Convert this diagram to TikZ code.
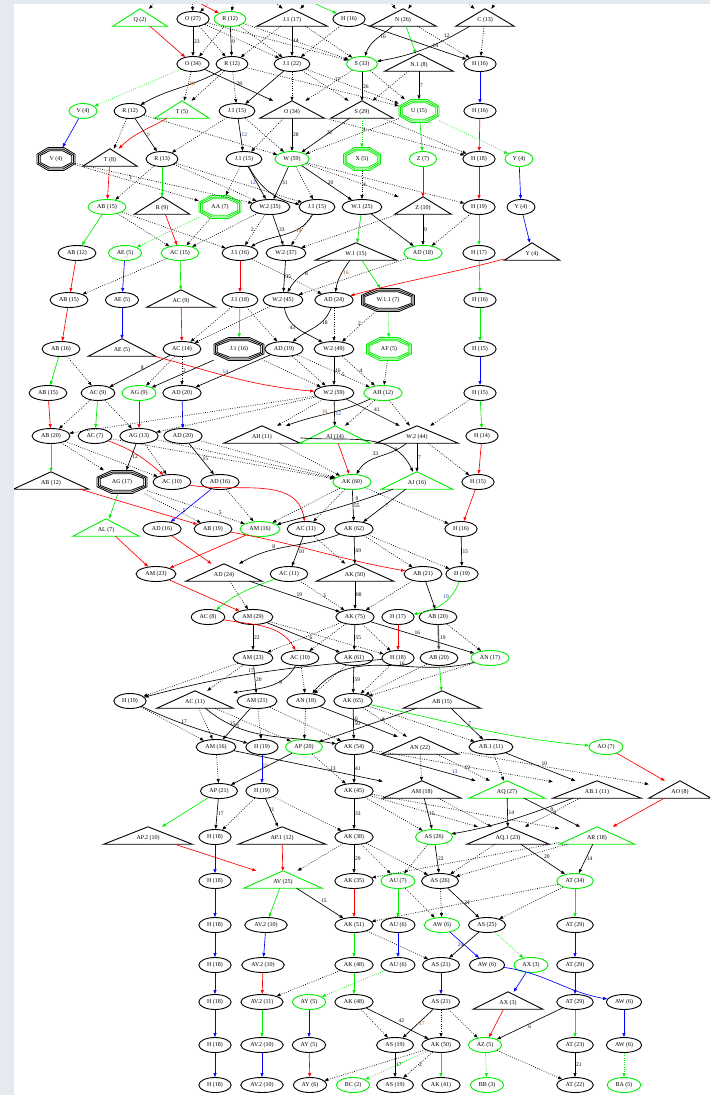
\documentclass[tikz,border=0pt]{standalone}
\usepackage{fontspec}
\setmainfont{Liberation Serif}
\usetikzlibrary{shapes.geometric,arrows.meta}
\definecolor{gG}{RGB}{0,238,0}
\definecolor{rR}{RGB}{255,0,0}
\definecolor{bB}{RGB}{0,0,255}
\definecolor{bgc}{RGB}{229,233,240}
\definecolor{brn}{RGB}{150,80,20}
\definecolor{lblue}{RGB}{30,60,170}
\newcommand\nf{\fontsize{6}{7}\selectfont}
\newcommand\lf{\fontsize{5.5}{6}\selectfont}
\tikzset{
 ell/.style={ellipse, draw=black, line width=0.9pt, inner xsep=3.5pt, inner ysep=1pt, minimum height=15pt, font=\nf},
 gell/.style={ell, draw=gG},
 tri/.style={rectangle, inner sep=0pt, text height=12pt, text depth=5pt, minimum width=#1pt, anchor=base, font=\nf},
 octn/.style={rectangle, inner sep=0pt, font=\nf},
 sl/.style={-{Triangle[length=4pt,width=3pt]}, line width=0.65pt},
 dt/.style={sl, dash pattern=on 0.8pt off 1.5pt},
 gs/.style={sl, draw=gG},
 rs/.style={sl, draw=rR},
 bs/.style={sl, draw=bB},
 gdt/.style={dt, draw=gG},
 lab/.style={font=\lf, inner sep=0.8pt, anchor=west},
 lbr/.style={lab, text=brn},
 lbl/.style={lab, text=lblue},
}
\newcommand\octnode[6]{%
  \node[octn, minimum width=#4pt, minimum height=23pt] (#1) at (#2,#3) {#5};
  \foreach \dd in {0,1.6,3.2}{%
    \pgfmathsetmacro\octA{#4/2-\dd}%
    \pgfmathsetmacro\octB{11.5-\dd}%
    \draw[#6, line width=0.8pt] ({#2+\octA},{#3-0.414*\octB}) -- ({#2+0.414*\octA},{#3-\octB}) -- ({#2-0.414*\octA},{#3-\octB}) -- ({#2-\octA},{#3-0.414*\octB}) -- ({#2-\octA},{#3+0.414*\octB}) -- ({#2-0.414*\octA},{#3+\octB}) -- ({#2+0.414*\octA},{#3+\octB}) -- ({#2+\octA},{#3+0.414*\octB}) -- cycle;}%
}
\begin{document}
\begin{tikzpicture}[x=1pt,y=-1pt]
\fill[bgc] (0,0) rectangle (710,1095);
\fill[white] (14,4) rectangle (710,1095);
\useasboundingbox (0,0) rectangle (710,1095);
\begin{scope}
\clip (14,4) rectangle (710,1095);
% ---------------- nodes ----------------
% r1
\node[tri=54] (Q1) at (140,21) {Q (2)};
\node[ell] (O1) at (193,19) {O (27)};
\node[gell] (R1) at (230,19) {R (12)};
\node[tri=70] (J1) at (292,21) {J.1 (17)};
\node[ell] (H1) at (349,19) {H (16)};
\node[tri=66] (N1) at (403,21) {N (26)};
\node[tri=58] (C1) at (485,21) {C (13)};
% r2
\node[ell] (O2) at (193,64) {O (34)};
\node[ell] (R2) at (232,64) {R (12)};
\node[ell] (J2) at (292,64) {J.1 (22)};
\node[gell] (S2) at (362,64) {S (33)};
\node[tri=68] (NN2) at (419,66) {N.1 (8)};
\node[ell] (H2) at (480,64) {H (16)};
% r3
\node[gell] (V3) at (83,111) {V (4)};
\node[ell] (R3) at (130,111) {R (12)};
\node[tri=54] (T3) at (182,113) {T (5)};
\node[ell] (J3) at (237,111) {J.1 (15)};
\node[tri=64] (O3) at (292,113) {O (34)};
\node[tri=62] (S3) at (362,113) {S (29)};
\octnode{U3}{419}{111}{40}{U (15)}{gG}
\node[ell] (H3) at (480,111) {H (16)};
% r4
\octnode{V4}{56}{159}{38}{V (4)}{black}
\node[tri=54] (T4) at (110,161) {T (8)};
\node[ell] (R4) at (162,159) {R (13)};
\node[ell] (J4) at (244,159) {J.1 (15)};
\node[gell] (W4) at (292,159) {W (59)};
\octnode{X4}{362}{159}{37}{X (5)}{gG}
\node[gell] (Z4) at (423,159) {Z (7)};
\node[ell] (H4) at (479,159) {H (18)};
\node[gell] (Y4) at (519,159) {Y (4)};
% r5
\node[gell] (AB5) at (107,207) {AB (15)};
\node[tri=55] (R5) at (162,209) {R (9)};
\octnode{AA5}{220}{207}{42}{AA (7)}{gG}
\node[ell] (W25) at (270,207) {W.2 (35)};
\node[ell] (J5) at (317,207) {J.1 (15)};
\node[ell] (W15) at (362,207) {W.1 (25)};
\node[tri=56] (Z5) at (423,209) {Z (10)};
\node[ell] (H5) at (479,207) {H (19)};
\node[ell] (Y5) at (521,207) {Y (4)};
% r6
\node[ell] (AB6) at (77,253) {AB (12)};
\node[gell] (AE6) at (125,253) {AE (5)};
\node[gell] (AC6) at (180,253) {AC (15)};
\node[ell] (J6) at (240,253) {J.1 (16)};
\node[ell] (W26) at (286,253) {W.2 (37)};
\node[tri=81] (W16) at (356,255) {W.1 (15)};
\node[gell] (AD6) at (423,253) {AD (18)};
\node[ell] (H6) at (479,253) {H (17)};
\node[tri=55] (Y6) at (532,255) {Y (4)};
% r7
\node[ell] (AB7) at (69,300) {AB (15)};
\node[ell] (AE7) at (122,300) {AE (5)};
\node[tri=68] (AC7) at (181,302) {AC (9)};
\node[ell] (J7) at (240,300) {J.1 (18)};
\node[ell] (W27) at (283,300) {W.2 (45)};
\node[ell] (AD7) at (334,300) {AD (24)};
\octnode{W117}{388}{300}{53}{W.1.1 (7)}{black}
\node[ell] (H7) at (480,300) {H (16)};
% r8
\node[ell] (AB8) at (61,349) {AB (16)};
\node[tri=67] (AE8) at (122,351) {AE (5)};
\node[ell] (AC8) at (182,349) {AC (14)};
\octnode{J8}{239}{349}{50}{J.1 (16)}{black}
\node[ell] (AD8) at (284,349) {AD (19)};
\node[ell] (W28) at (334,349) {W.2 (49)};
\octnode{AF8}{389}{349}{45}{AF (5)}{gG}
\node[ell] (H8) at (480,349) {H (15)};
% r9
\node[ell] (AB9) at (48,393) {AB (15)};
\node[ell] (AC9) at (98,393) {AC (9)};
\node[gell] (AG9) at (139,393) {AG (9)};
\node[ell] (AD9) at (182,393) {AD (20)};
\node[ell] (W29) at (334,393) {W.2 (59)};
\node[gell] (AH9) at (383,393) {AH (12)};
\node[ell] (H9) at (480,393) {H (15)};
% r10
\node[ell] (AB10) at (51,436) {AB (20)};
\node[ell] (AC10) at (95,436) {AC (7)};
\node[ell] (AG10) at (139,436) {AG (13)};
\node[ell] (AD10) at (183,436) {AD (20)};
\node[tri=76] (AH10) at (262,438) {AH (11)};
\node[tri=70] (AI10) at (335,438) {AI (14)};
\node[tri=82] (W210) at (417,438) {W.2 (44)};
\node[ell] (H10) at (482,436) {H (14)};
% r11
\node[tri=75] (AB11) at (51,484) {AB (12)};
\octnode{AG11}{122}{482}{50}{AG (17)}{black}
\node[ell] (AC11) at (172,482) {AC (10)};
\node[ell] (AD11) at (220,482) {AD (16)};
\node[gell] (AK11) at (352,482) {AK (60)};
\node[tri=71] (AJ11) at (417,484) {AJ (16)};
\node[ell] (H11) at (478,482) {H (15)};
% r12
\node[tri=66] (AL12) at (106,531) {AL (7)};
\node[ell] (AD12) at (162,529) {AD (16)};
\node[ell] (AB12) at (213,529) {AB (19)};
\node[gell] (AM12) at (260,529) {AM (16)};
\node[ell] (AC12) at (306,529) {AC (11)};
\node[ell] (AK12) at (354,529) {AK (62)};
\node[ell] (H12) at (461,529) {H (16)};
% r13
\node[ell] (AM13) at (156,574) {AM (23)};
\node[tri=76] (AD13) at (224,576) {AD (24)};
\node[ell] (AC13) at (289,574) {AC (11)};
\node[tri=77] (AK13) at (355,576) {AK (50)};
\node[ell] (AB13) at (423,574) {AB (21)};
\node[ell] (H13) at (462,574) {H (19)};
% r14
\node[ell] (AC14) at (208,617) {AC (8)};
\node[ell] (AM14) at (253,617) {AM (29)};
\node[ell] (AK14) at (355,617) {AK (75)};
\node[ell] (H14) at (398,617) {H (17)};
\node[ell] (AB14) at (438,617) {AB (20)};
% r15
\node[ell] (AM15) at (253,658) {AM (23)};
\node[ell] (AC15) at (300,658) {AC (10)};
\node[ell] (AK15) at (354,658) {AK (61)};
\node[ell] (H15) at (398,658) {H (18)};
\node[ell] (AB15) at (439,658) {AB (20)};
\node[gell] (AN15) at (490,658) {AN (17)};
% r16
\node[ell] (H16) at (130,701) {H (19)};
\node[tri=76] (AC16) at (195,703) {AC (11)};
\node[ell] (AM16) at (257,701) {AM (21)};
\node[ell] (AN16) at (306,701) {AN (18)};
\node[ell] (AK16) at (353,701) {AK (65)};
\node[tri=77] (AB16) at (442,703) {AB (15)};
% r17
\node[ell] (AM17) at (216,747) {AM (16)};
\node[ell] (H17) at (262,747) {H (19)};
\node[gell] (AP17) at (304,747) {AP (20)};
\node[ell] (AK17) at (354,747) {AK (54)};
\node[tri=77] (AN17) at (420,749) {AN (22)};
\node[ell] (AB117) at (491,747) {AB.1 (11)};
\node[gell] (AO17) at (606,747) {AO (7)};
% r18
\node[ell] (AP18) at (219,791) {AP (21)};
\node[ell] (H18) at (262,791) {H (19)};
\node[ell] (AK18) at (354,791) {AK (45)};
\node[tri=78] (AM18) at (422,793) {AM (18)};
\node[tri=76] (AQ18) at (507,793) {AQ (27)};
\node[tri=88] (AB118) at (597,793) {AB.1 (11)};
\node[tri=62] (AO18) at (680,793) {AO (8)};
% r19
\node[tri=88] (AP219) at (148,839) {AP.2 (10)};
\node[ell] (H19) at (215,837) {H (18)};
\node[tri=87] (AP119) at (282,839) {AP.1 (12)};
\node[ell] (AK19) at (354,837) {AK (38)};
\node[gell] (AS19) at (434,837) {AS (26)};
\node[tri=82] (AQ119) at (508,839) {AQ.1 (23)};
\node[tri=75] (AR19) at (597,839) {AR (18)};
% r20
\node[ell] (H20) at (215,881) {H (18)};
\node[tri=78] (AV20) at (283,883) {AV (25)};
\node[ell] (AK20) at (354,881) {AK (35)};
\node[gell] (AU20) at (398,881) {AU (7)};
\node[ell] (AS20) at (440,881) {AS (26)};
\node[gell] (AT20) at (575,881) {AT (34)};
% r21
\node[ell] (H21) at (215,925) {H (18)};
\node[ell] (AV221) at (266,925) {AV.2 (10)};
\node[ell] (AK21) at (354,925) {AK (51)};
\node[ell] (AU21) at (398,925) {AU (6)};
\node[gell] (AW21) at (442,925) {AW (6)};
\node[ell] (AS21) at (487,925) {AS (25)};
\node[ell] (AT21) at (575,925) {AT (29)};
% r22
\node[ell] (H22) at (215,965) {H (18)};
\node[ell] (AV222) at (263,965) {AV.2 (10)};
\node[ell] (AK22) at (354,965) {AK (48)};
\node[ell] (AU22) at (398,965) {AU (6)};
\node[ell] (AS22) at (441,965) {AS (21)};
\node[ell] (AW22) at (487,965) {AW (6)};
\node[gell] (AX22) at (531,965) {AX (3)};
\node[ell] (AT22) at (575,965) {AT (29)};
% r23
\node[ell] (H23) at (215,1002) {H (18)};
\node[ell] (AV223) at (262,1002) {AV.2 (11)};
\node[gell] (AY23) at (309,1002) {AY (5)};
\node[ell] (AK23) at (354,1002) {AK (48)};
\node[ell] (AS23) at (441,1002) {AS (21)};
\node[tri=69] (AX23) at (508,1004) {AX (3)};
\node[ell] (AT23) at (575,1002) {AT (29)};
\node[ell] (AW23) at (624,1002) {AW (6)};
% r24
\node[ell] (H24) at (215,1045) {H (18)};
\node[ell] (AV224) at (262,1045) {AV.2 (10)};
\node[ell] (AY24) at (309,1045) {AY (5)};
\node[ell] (AS24) at (395,1045) {AS (19)};
\node[ell] (AK24) at (441,1045) {AK (50)};
\node[gell] (AZ24) at (485,1045) {AZ (5)};
\node[ell] (AT24) at (575,1045) {AT (23)};
\node[ell] (AW24) at (624,1045) {AW (6)};
% r25
\node[ell] (H25) at (215,1085) {H (18)};
\node[ell] (AV225) at (262,1085) {AV.2 (10)};
\node[ell] (AY25) at (310,1085) {AY (6)};
\node[gell] (BC25) at (353,1085) {BC (2)};
\node[ell] (AS25) at (395,1085) {AS (19)};
\node[ell] (AK25) at (441,1085) {AK (41)};
\node[gell] (BB25) at (487,1085) {BB (3)};
\node[ell] (AT25) at (575,1085) {AT (22)};
\node[gell] (BA25) at (624,1085) {BA (5)};
% ---------------- triangles ----------------
\foreach \tn in {J1,N1,C1,NN2,O3,S3,T4,R5,Z5,W16,Y6,AC7,AE8,AH10,W210,AB11,AD13,AK13,AC16,AB16,AN17,AM18,AB118,AO18,AP219,AP119,AQ119,AX23}{
  \draw[line width=0.9pt] (\tn.south west) -- (\tn.north) -- (\tn.south east) -- cycle;}
\foreach \tn in {Q1,T3,AI10,AJ11,AL12,AQ18,AR19,AV20}{
  \draw[gG, line width=0.9pt] (\tn.south west) -- (\tn.north) -- (\tn.south east) -- cycle;}
% ---------------- stubs from above ----------------
\coordinate (t1) at (168,-10);
\coordinate (t2) at (192,-10);
\coordinate (t3) at (222,-10);
\coordinate (t4) at (186,-4);
\coordinate (t5) at (236,-10);
\coordinate (t6) at (262,-10);
\coordinate (t7) at (318,-10);
\coordinate (t8) at (298,-4);
\coordinate (t9) at (380,-10);
\coordinate (t10) at (420,-10);
\coordinate (t11) at (452,-10);
\coordinate (t12) at (505,-10);
\draw[dt] (t1) -- (Q1);
\draw[dt] (t2) -- (O1);
\draw[dt] (t3) -- (O1);
\draw[rs] (t4) -- (R1);
\draw[dt] (t5) -- (R1);
\draw[dt] (t6) -- (J1);
\draw[dt] (t7) -- (J1);
\draw[gs] (t8) -- (H1);
\draw[dt] (t9) -- (N1);
\draw[dt] (t10) -- (N1);
\draw[dt] (t11) -- (C1);
\draw[dt] (t12) -- (C1);
% ---------------- edges ----------------
% r1-r2
\draw[rs] (Q1) -- (O2);
\draw[sl] (O1) -- node[lab]{23} (O2);
\draw[sl] (R1) -- node[lab]{9} (R2);
\draw[sl] (J1) -- node[lab]{14} (J2);
\draw[sl] (H1) -- node[lab,pos=.7,anchor=south]{14} (H2);
\draw[sl] (N1) to[out=-140,in=70] node[lab,pos=.4]{16} (S2);
\draw[gs] (N1) -- (NN2);
\draw[sl] (C1) to[out=-150,in=10] node[lab,pos=.25,anchor=south]{12} (S2);
\draw[dt] (C1) -- (H2);
\draw[dt] (N1) -- (H2);
\draw[dt] (O1) -- (R2);
\draw[dt] (O1) -- (J2);
\draw[dt] (O1) -- (S2);
\draw[dt] (R1) -- (O2);
\draw[dt] (R1) -- (J2);
\draw[dt] (R1) -- (S2);
\draw[dt] (J1) -- (R2);
\draw[dt] (J1) -- (S2);
\draw[dt] (H1) -- (J2);
% r2-r3
\draw[sl] (R2) to[out=-150,in=30] (R3);
\draw[sl] (O2) -- node[lab,pos=.45]{28} (O3);
\draw[sl] (J2) -- (J3);
\draw[gdt] (O2) -- (V3);
\draw[dt] (O2) -- node[lbr,pos=.4]{10} (T3);
\draw[dt] (R2) -- (T3);
\draw[dt] (R2) -- (J3);
\draw[dt] (R2) -- (U3);
\draw[dt] (J2) -- (O3);
\draw[dt] (J2) -- (S3);
\draw[dt] (J2) -- node[lab,pos=.3]{17} (U3);
\draw[sl] (S2) -- node[lab]{26} (S3);
\draw[dt] (S2) -- (U3);
\draw[dt] (S2) -- (O3);
\draw[sl] (NN2) -- node[lab]{7} (U3);
\draw[dt] (NN2) -- (S3);
\draw[bs] (H2) -- (H3);
% r3-r4
\draw[bs] (V3) -- (V4);
\draw[dt] (R3) -- (T4);
\draw[sl] (R3) -- node[lbr]{9} (R4);
\draw[rs] (T3) to[out=-150,in=45] (T4);
\draw[dt] (J3) -- (R4);
\draw[dt] (R3) -- (W4);
\draw[sl] (J3) -- node[lbl]{12} (J4);
\draw[dt] (J3) -- (W4);
\draw[sl] (O3) -- node[lab]{28} (W4);
\draw[dt] (O3) -- (J4);
\draw[dt] (O3) -- (H4);
\draw[sl] (S3) -- node[lab,anchor=south west]{22} (W4);
\draw[gdt] (S3) -- (X4);
\draw[dt] (S3) -- (H4);
\draw[gs] (U3) -- (Z4);
\draw[gdt] (U3) -- (Y4);
\draw[dt] (U3) -- node[lab,pos=.4,anchor=south west]{4} (W4);
\draw[rs] (H3) -- (H4);
% r4-r5
\draw[dt] (V4) -- node[lab,pos=.45,anchor=south]{1} (AA5);
\draw[dt] (V4) -- (W25);
\draw[rs] (T4) -- (AB5);
\draw[gs] (R4) -- (R5);
\draw[dt] (R4) -- (AB5);
\draw[dt] (R4) -- (W25);
\draw[dt] (R4) -- (J5);
\draw[dt] (J4) -- (AA5);
\draw[sl] (J4) -- node[lbl,anchor=east]{12} (W25);
\draw[sl] (J4) to[bend right=25] (J5);
\draw[sl] (W4) -- node[lab]{31} (W25);
\draw[sl] (W4) -- node[lab]{20} (W15);
\draw[dt] (W4) -- (J5);
\draw[dt] (W4) -- (Z5);
\draw[dt] (W4) -- (H5);
\draw[dt] (X4) -- node[lab]{4} (W15);
\draw[rs] (Z4) -- (Z5);
\draw[rs] (H4) -- (H5);
\draw[bs] (Y4) -- (Y5);
% r5-r6
\draw[gs] (AB5) -- (AB6);
\draw[dt] (AB5) -- (AC6);
\draw[dt] (AB5) -- (J6);
\draw[rs] (R5) -- (AC6);
\draw[gdt] (AA5) -- (AE6);
\draw[dt] (AA5) -- (AC6);
\draw[dt] (W25) -- (AC6);
\draw[dt] (W25) -- node[lab,anchor=east]{2} (J6);
\draw[sl] (W25) -- node[lab]{33} (W26);
\draw[sl] (J5) to[out=-120,in=30] node[lbr,pos=.35]{14} (J6);
\draw[dt] (J5) -- (W26);
\draw[gs] (W15) -- (W16);
\draw[sl] (W15) -- node[lab,anchor=east]{7} (AD6);
\draw[sl] (Z5) -- node[lab]{9} (AD6);
\draw[dt] (Z5) -- (W26);
\draw[dt] (H5) -- (AD6);
\draw[gs] (H5) -- (H6);
\draw[bs] (Y5) -- (Y6);
% r6-r7
\draw[rs] (AB6) -- (AB7);
\draw[dt] (AC6) -- (AB7);
\draw[bs] (AE6) -- (AE7);
\draw[gs] (AC6) -- (AC7);
\draw[rs] (J6) -- (J7);
\draw[dt] (J6) -- (AD7);
\draw[sl] (W26) -- node[lab]{35} (W27);
\draw[sl] (W16) to[out=200,in=60] node[lab,pos=.55]{8} (W27);
\draw[sl] (W16) to[out=235,in=80] node[lbr,pos=.4]{16} (AD7);
\draw[gs] (W16) -- (W117);
\draw[rs] (Y6) to[out=195,in=15] (AD7);
\draw[gs] (H6) -- (H7);
\draw[dt] (AD6) -- (W27);
% r7-r8
\draw[rs] (AB7) -- (AB8);
\draw[bs] (AE7) -- (AE8);
\draw[rs] (AC7) -- (AC8);
\draw[gs] (J7) -- (J8);
\draw[dt] (J7) -- (AC8);
\draw[dt] (J7) -- (AD8);
\draw[dt] (W27) -- (AC8);
\draw[sl] (W27) to[out=-80,in=150] node[lab,pos=.45,anchor=east]{43} (W28);
\draw[sl] (AD7) to[out=-110,in=40] node[lab,pos=.35]{18} (AD8);
\draw[dt] (AD7) -- (W28);
\draw[gdt] (W117) -- (AF8);
\draw[dt] (W117) -- node[lab,pos=.4,anchor=east]{2} (W28);
\draw[gs] (H7) -- (H8);
% r8-r9
\draw[gs] (AB8) -- (AB9);
\draw[dt] (AB8) -- (AC9);
\draw[sl] (AC8) -- node[lab,anchor=south west]{8} (AC9);
\draw[dt] (AC8) -- (AG9);
\draw[dt] (AC8) -- node[lab]{2} (AD9);
\draw[sl] (J8) -- (AG9);
\draw[sl] (AD8) -- node[lbl,pos=.6,anchor=south]{14} (AD9);
\draw[dt] (AD8) -- node[lab,pos=.6]{5} (AH9);
\draw[dt] (AD8) -- (W29);
\draw[dt] (J8) -- (W29);
\draw[sl] (W28) -- node[lab]{16} (W29);
\draw[dt] (W28) -- node[lab]{4} (AH9);
\draw[dt] (AF8) -- (AH9);
\draw[rs] (AE8) to[out=-15,in=175] (W29);
\draw[bs] (H8) -- (H9);
% r9-r10
\draw[rs] (AB9) -- (AB10);
\draw[dt] (AC9) -- (AB10);
\draw[gs] (AC9) -- (AC10);
\draw[dt] (AC9) -- (AG10);
\draw[rs] (AG9) -- (AG10);
\draw[bs] (AD9) -- (AD10);
\draw[sl] (AH9) to[out=205,in=20] node[lbr,pos=.55,anchor=south]{10} (AH10);
\draw[sl] (W29) -- node[lbl]{12} (AI10);
\draw[sl] (W29) -- node[lab,anchor=south west]{41} (W210);
\draw[dt] (AH9) -- (AI10);
\draw[dt] (AH9) -- (W210);
\draw[dt] (W29) -- (AH10);
\draw[dt] (W29) -- (AB10);
\draw[dt] (W29) -- (AG10);
\draw[gs] (H9) -- (H10);
\draw[dt] (H9) -- (W210);
% r10-r11
\draw[gs] (AB10) -- (AB11);
\draw[dt] (AB10) -- (AG11);
\draw[dt] (AB10) -- (AC11);
\draw[rs] (AC10) to[out=-20,in=140] (AC11);
\draw[sl] (AG10) -- node[lab]{12} (AG11);
\draw[dt] (AG10) -- (AC11);
\draw[sl] (AD10) -- node[lab]{15} (AD11);
\draw[dt] (AD10) -- (AK11);
\draw[dt] (AG10) -- (AK11);
\draw[dt] (AC10) -- (AK11);
\draw[sl] (AH10) to[out=-5,in=115] node[lab,pos=.75]{9} (AJ11);
\draw[dt] (AH10) -- (AK11);
\draw[rs] (AI10) -- (AK11);
\draw[sl] (W210) to[out=220,in=60] node[lab,pos=.5,anchor=south east]{33} (AK11);
\draw[sl] (W210) -- node[lab]{7} (AJ11);
\draw[dt] (W210) -- (H11);
\draw[rs] (H10) -- (H11);
% r11-r12
\draw[rs] (AB11) -- (AB12);
\draw[gs] (AG11) -- (AL12);
\draw[dt] (AG11) -- node[lab,pos=.7,anchor=south]{5} (AB12);
\draw[dt] (AG11) -- node[lab,pos=.75,anchor=south]{5} (AM12);
\draw[rs] (AC11) to[out=-10,in=100] (AC12);
\draw[bs] (AD11) -- (AD12);
\draw[dt] (AD11) -- (AM12);
\draw[sl] (AK11) -- node[lab]{55} (AK12);
\draw[dt] (AK11) -- (AM12);
\draw[dt] (AK11) -- (AC12);
\draw[dt] (AK11) -- (H12);
\draw[sl] (AJ11) to[out=200,in=15] node[lab,pos=.3,anchor=south]{9} (AM12);
\draw[sl] (AJ11) -- node[lab]{7} (AK12);
\draw[rs] (H11) -- (H12);
% r12-r13
\draw[rs] (AL12) -- (AM13);
\draw[rs] (AD12) -- (AD13);
\draw[rs] (AM12) -- (AM13);
\draw[rs] (AB12) to[out=-10,in=170] (AB13);
\draw[sl] (AC12) -- node[lab]{10} (AC13);
\draw[sl] (AK12) to[out=200,in=30] node[lab,pos=.65,anchor=south]{8} (AD13);
\draw[sl] (AK12) -- node[lab]{69} (AK13);
\draw[dt] (AK12) -- (AB13);
\draw[dt] (AK12) -- (H13);
\draw[dt] (AC12) -- (AK13);
\draw[sl] (H12) -- node[lab]{15} (H13);
% r13-r14
\draw[rs] (AM13) -- (AM14);
\draw[gs] (AC13) to[out=200,in=40] (AC14);
\draw[sl] (AD13) -- node[lab,pos=.55,anchor=south]{19} (AK14);
\draw[dt] (AD13) -- (AM14);
\draw[dt] (AC13) -- node[lab]{3} (AK14);
\draw[sl] (AK13) -- node[lab]{88} (AK14);
\draw[sl] (AB13) -- (AB14);
\draw[gs] (H13) to[out=-110,in=10] node[lbl,pos=.3,anchor=east]{19} (H14);
\draw[dt] (AB13) -- (AK14);
% r14-r15
\draw[rs] (AC14) to[out=-10,in=120] (AC15);
\draw[sl] (AM14) -- node[lab]{22} (AM15);
\draw[sl] (AM14) -- node[lab,pos=.6,anchor=south]{6} (AK15);
\draw[sl] (AK14) -- node[lab]{55} (AK15);
\draw[sl] (AK14) -- node[lab,pos=.45,anchor=south]{16} (AN15);
\draw[dt] (AK14) -- (H15);
\draw[dt] (AK14) -- (AM15);
\draw[dt] (AK14) -- (AC15);
\draw[dt] (AM14) -- (H15);
\draw[dt] (AB14) -- (AN15);
\draw[rs] (H14) -- (H15);
\draw[sl, line width=1.4pt, draw=black!65] (AB14) -- node[lab]{19} (AB15);
% r15-r16
\draw[sl] (AM15) -- node[lab]{20} (AM16);
\draw[sl] (AC15) to[out=-120,in=10] node[lab,pos=.35]{9} (AC16);
\draw[sl] (H15) to[out=185,in=15] node[lab,pos=.55,anchor=south]{17} (H16);
\draw[sl] (AK15) -- node[lab]{59} (AK16);
\draw[sl] (AN15) to[out=195,in=50] node[lab,pos=.4,anchor=south]{16} (AN16);
\draw[gs] (AB15) -- (AB16);
\draw[dt] (AM15) -- (H16);
\draw[dt] (AM15) -- (AC16);
\draw[dt] (AC15) -- (AN16);
\draw[dt] (AK15) -- (AN16);
\draw[dt] (AB15) -- (AK16);
\draw[dt] (H15) -- (AK16);
\draw[dt] (AN15) -- (AK16);
% r16-r17
\draw[sl] (H16) to[out=-25,in=165] node[lab,pos=.4,anchor=south]{17} (H17);
\draw[sl] (AC16) to[out=-40,in=170] node[lab,pos=.25]{5} (AK17);
\draw[sl] (AM16) -- node[lab,anchor=east]{15} (AM17);
\draw[dt] (AM16) -- (H17);
\draw[dt] (AM16) -- (AK17);
\draw[sl] (AN16) -- node[lab,pos=.4]{16} (AN17);
\draw[sl] (AK16) -- node[lab]{50} (AK17);
\draw[sl] (AB16) -- (AP17);
\draw[sl] (AB16) -- node[lab]{7} (AB117);
\draw[gs] (AK16) to[out=-12,in=175] (AO17);
\draw[dt] (AK16) -- node[lab,pos=.4]{8} (AN17);
\draw[dt] (AK16) -- (AB117);
\draw[dt] (AC16) -- (AM17);
\draw[dt] (H16) -- (AM17);
\draw[dt] (AN16) -- (AP17);
\draw[dt] (AC16) -- (AP17);
% r17-r18
\draw[dt] (AM17) -- (AP18);
\draw[bs] (H17) -- (H18);
\draw[sl] (AP17) -- node[lbr,anchor=south west]{19} (AP18);
\draw[dt] (AP17) -- node[lab]{13} (AK18);
\draw[sl] (AK17) -- node[lab]{41} (AK18);
\draw[sl] (AK17) -- node[lbl,pos=.8,anchor=south]{13} (AQ18);
\draw[dt] (AN17) -- (AM18);
\draw[dt] (AN17) -- node[lab]{12} (AQ18);
\draw[dt] (AN17) -- (AO18);
\draw[sl] (AB117) -- node[lab,anchor=south west]{10} (AB118);
\draw[rs] (AO17) -- (AO18);
\draw[dt] (AB117) -- (AQ18);
\draw[sl] (AM17) -- (AM18);
\draw[dt] (AK17) -- (AB118);
% r18-r19
\draw[gs] (AP18) -- (AP219);
\draw[sl] (AP18) -- node[lab]{17} (H19);
\draw[dt] (H18) -- (H19);
\draw[sl] (H18) -- node[lab,anchor=south]{11} (AP119);
\draw[dt] (H18) -- (AK19);
\draw[sl] (AK18) -- node[lab]{33} (AK19);
\draw[dt] (AK18) -- (AS19);
\draw[dt] (AK18) -- (AQ119);
\draw[dt] (AK18) -- (AR19);
\draw[sl] (AM18) -- node[lab]{15} (AS19);
\draw[dt] (AM18) -- (AQ119);
\draw[sl] (AQ18) -- node[lab]{14} (AQ119);
\draw[sl] (AQ18) -- node[lab,anchor=south]{9} (AR19);
\draw[sl] (AB118) to[out=200,in=10] (AS19);
\draw[dt] (AB118) -- node[lab]{9} (AQ119);
\draw[rs] (AO18) -- (AR19);
% r19-r20
\draw[rs] (AP219) -- (AV20);
\draw[bs] (H19) -- (H20);
\draw[rs] (AP119) -- (AV20);
\draw[sl] (AK19) -- node[lab]{29} (AK20);
\draw[dt] (AK19) -- (AU20);
\draw[dt] (AK19) -- (AS20);
\draw[dt] (AK19) -- (AV20);
\draw[sl] (AS19) -- node[lab]{22} (AS20);
\draw[dt] (AS19) -- (AU20);
\draw[sl] (AQ119) -- node[lab,anchor=south west]{20} (AT20);
\draw[dt] (AQ119) -- (AS20);
\draw[sl] (AR19) -- node[lab]{14} (AT20);
\draw[dt] (AR19) -- (AS20);
\draw[dt] (AR19) -- (AK20);
% r20-r21
\draw[gs] (AV20) -- (AV221);
\draw[sl] (AV20) -- node[lab,anchor=south west]{15} (AK21);
\draw[rs] (AK20) -- (AK21);
\draw[gs] (AU20) -- (AU21);
\draw[dt] (AU20) -- (AW21);
\draw[dt] (AS20) -- (AW21);
\draw[sl] (AS20) -- node[lab]{21} (AS21);
\draw[gs] (AT20) -- (AT21);
\draw[dt] (AT20) -- (AS21);
\draw[dt] (AT20) -- (AK21);
\draw[bs] (H20) -- (H21);
% r21-r22
\draw[bs] (AV221) -- (AV222);
\draw[gs] (AK21) -- (AK22);
\draw[dt] (AK21) -- (AS22);
\draw[bs] (AU21) -- (AU22);
\draw[bs] (AW21) -- node[lbl,anchor=east]{26} (AW22);
\draw[sl] (AS21) -- (AS22);
\draw[gdt] (AS21) -- (AX22);
\draw[bs] (AT21) -- (AT22);
\draw[bs] (H21) -- (H22);
% r22-r23
\draw[rs] (AV222) -- (AV223);
\draw[gs] (AK22) -- (AK23);
\draw[dt] (AK22) -- (AV223);
\draw[gdt] (AU22) -- (AY23);
\draw[bs] (AS22) -- (AS23);
\draw[bs] (AW22) to[out=-8,in=170] (AW23);
\draw[bs] (AX22) -- (AX23);
\draw[bs] (AT22) -- (AT23);
\draw[bs] (H22) -- (H23);
% r23-r24
\draw[gs] (AV223) -- (AV224);
\draw[bs] (AY23) -- (AY24);
\draw[sl] (AK23) -- node[lab,anchor=south west]{42} (AK24);
\draw[dt] (AK23) -- (AS24);
\draw[sl] (AS23) -- node[lbr]{17} (AS24);
\draw[dt] (AS23) -- (AK24);
\draw[dt] (AS23) -- (AZ24);
\draw[rs] (AX23) -- (AZ24);
\draw[sl] (AT23) -- node[lab,anchor=north]{6} (AZ24);
\draw[gs] (AT23) -- (AT24);
\draw[bs] (AW23) -- (AW24);
\draw[bs] (H23) -- (H24);
% r24-r25
\draw[bs] (AV224) -- (AV225);
\draw[rs] (AY24) -- (AY25);
\draw[sl] (AS24) -- node[lab]{17} (AS25);
\draw[gs] (AK24) -- (AK25);
\draw[dt] (AK24) -- node[lab]{2} (AS25);
\draw[dt] (AK24) -- (AY25);
\draw[gdt] (AK24) -- (BC25);
\draw[gdt] (AZ24) -- (BB25);
\draw[dt] (AZ24) -- (AT25);
\draw[sl] (AT24) -- node[lab]{21} (AT25);
\draw[gdt] (AW24) -- (BA25);
\draw[bs] (H24) -- (H25);
\end{scope}
\end{tikzpicture}
\end{document}
